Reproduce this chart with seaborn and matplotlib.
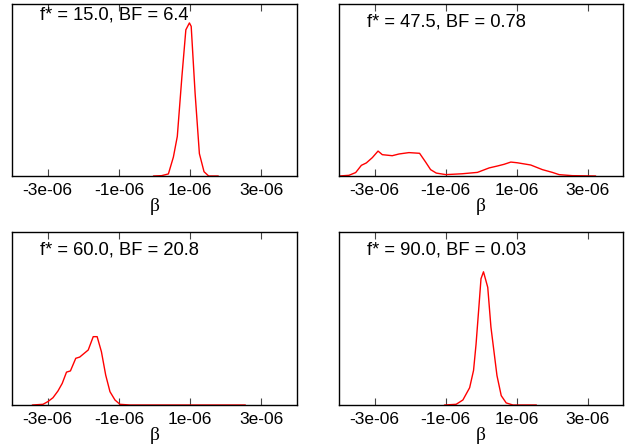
import matplotlib
matplotlib.use("Agg")
import matplotlib.pyplot as plt
import seaborn as sns
import pandas as pd
import numpy as np

# ---- data (beta in units of 1e-6, density in arbitrary units) ----
titles = ["f* = 15.0, BF = 6.4", "f* = 47.5, BF = 0.78",
          "f* = 60.0, BF = 20.8", "f* = 90.0, BF = 0.03"]

beta_a = [-0.03, 0.20, 0.39, 0.53, 0.64, 0.77, 0.88, 0.98, 1.03, 1.14, 1.26, 1.39, 1.52, 1.79]
dens_a = [0.0, 0.002, 0.012, 0.11, 0.23, 0.58, 0.85, 0.89, 0.87, 0.48, 0.13, 0.025, 0.0, 0.0]

beta_b = [-4.0, -3.72, -3.53, -3.37, -3.23, -3.06, -2.90, -2.78, -2.50, -2.31, -2.03, -1.73,
          -1.56, -1.42, -1.26, -0.99, -0.53, -0.10, 0.23, 0.46, 0.65, 0.84, 1.02, 1.40,
          1.73, 2.01, 2.20, 2.57, 3.23]
dens_b = [0.0, 0.004, 0.02, 0.062, 0.076, 0.107, 0.145, 0.124, 0.118, 0.128, 0.136, 0.132,
          0.081, 0.037, 0.017, 0.008, 0.013, 0.021, 0.047, 0.058, 0.068, 0.081, 0.077, 0.064,
          0.037, 0.021, 0.008, 0.002, 0.0]

beta_c = [-3.43, -3.13, -2.99, -2.85, -2.71, -2.59, -2.47, -2.36, -2.21, -2.10, -1.86, -1.72,
          -1.61, -1.49, -1.37, -1.25, -1.11, -0.97, -0.69, 2.55]
dens_c = [0.0, 0.004, 0.02, 0.042, 0.081, 0.125, 0.19, 0.197, 0.27, 0.277, 0.318, 0.395,
          0.395, 0.308, 0.173, 0.077, 0.029, 0.004, 0.0, 0.0]

beta_d = [-1.03, -0.70, -0.51, -0.32, -0.21, -0.14, -0.06, 0.0, 0.07, 0.19, 0.28, 0.45,
          0.57, 0.71, 0.90, 1.56]
dens_d = [0.0, 0.004, 0.029, 0.10, 0.20, 0.35, 0.565, 0.73, 0.77, 0.68, 0.45, 0.17,
          0.054, 0.012, 0.0, 0.0]

tick_vals = [-3e-06, -1e-06, 1e-06, 3e-06]
tick_labels = ["-3e-06", "-1e-06", "1e-06", "3e-06"]

series = [(beta_a, dens_a), (beta_b, dens_b), (beta_c, dens_c), (beta_d, dens_d)]

sns.set_style("ticks")
plt.rcParams["font.family"] = ["Liberation Sans", "DejaVu Sans"]
plt.rcParams["font.size"] = 12
plt.rcParams["text.color"] = "black"
plt.rcParams["axes.labelcolor"] = "black"
plt.rcParams["xtick.color"] = "black"

fig = plt.figure(figsize=(6.29, 4.48), dpi=100)

W, H = 629.0, 448.0
boxes = [(12, 4, 297, 176), (339, 4, 623, 176), (12, 232, 297, 405), (339, 232, 623, 405)]
text_off = [11, 18, 18, 18]

for i, ((x0, y0, x1, y1), (b, d)) in enumerate(zip(boxes, series)):
    ax = fig.add_axes([x0 / W, 1 - y1 / H, (x1 - x0) / W, (y1 - y0) / H])
    df = pd.DataFrame({"beta": np.array(b) * 1e-6, "density": d})
    sns.lineplot(data=df, x="beta", y="density", ax=ax, color="#ff0000",
                 linewidth=1.0, sort=False, estimator=None)
    ax.set_xlim(-4e-6, 4e-6)
    ax.set_ylim(0, 1)
    ax.set_xticks(tick_vals)
    ax.set_xticklabels(tick_labels, fontsize=12.5, color="black")
    ax.set_yticks([])
    ax.tick_params(axis="x", direction="in", length=5, width=0.8, top=True,
                   bottom=True, color="#444444", pad=5)
    for s in ax.spines.values():
        s.set_visible(True)
        s.set_linewidth(1.0)
        s.set_color("black")
    ax.set_ylabel("")
    ax.set_xlabel("β", fontsize=14, family=["Liberation Serif", "DejaVu Serif"],
                  labelpad=0, color="black")
    ax.text(28 / (x1 - x0), 1 - text_off[i] / (y1 - y0), titles[i],
            transform=ax.transAxes, ha="left", va="center", fontsize=13.2, color="black")

fig.savefig("out.png", dpi=100)
